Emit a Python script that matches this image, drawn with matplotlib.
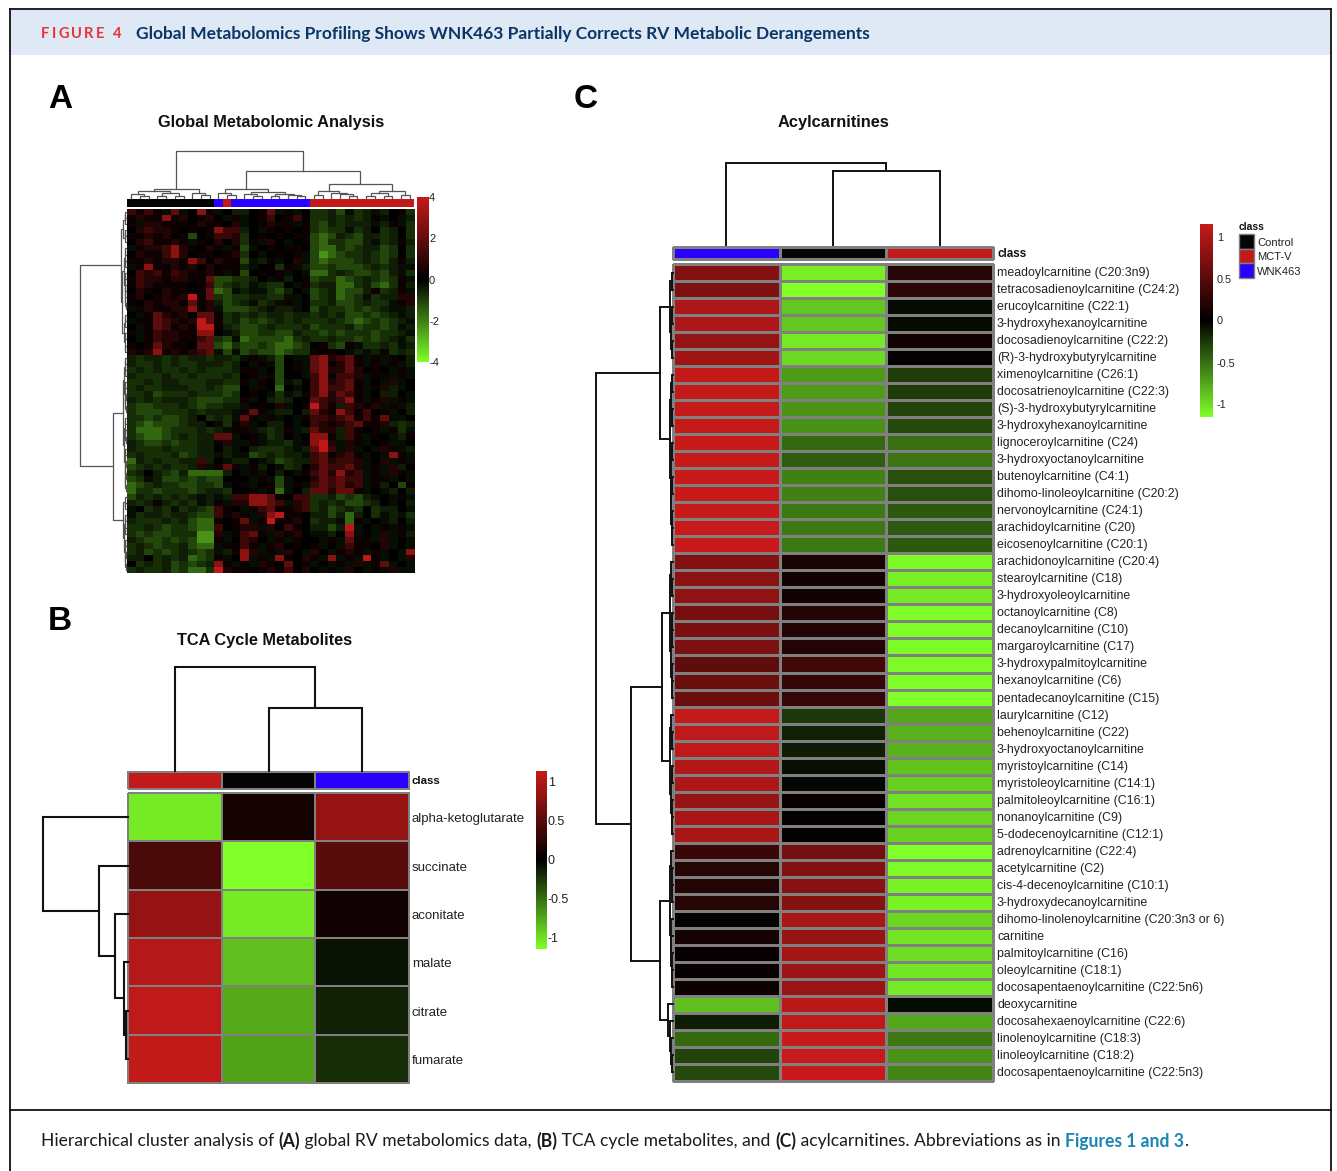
import matplotlib
matplotlib.use('Agg')
import matplotlib.pyplot as plt
from matplotlib import font_manager as fm
from matplotlib.colors import LinearSegmentedColormap, ListedColormap, Normalize
from matplotlib.patches import Rectangle
import numpy as np

W, H = 1337, 1171
SANS = 'Liberation Sans'


def bold_family():
    for fam in ['Lato', 'Open Sans', 'Roboto', 'Inter', 'Noto Sans']:
        for f in fm.fontManager.ttflist:
            if f.name == fam and f.weight in (700, 'bold'):
                return fam
    return SANS


HEAD = bold_family()

# ---------- data ----------
class_names = ['Control', 'MCT-V', 'WNK463']
class_colors = ['#050505', '#c21a1a', '#2a00ff']

a_classes = [0]*10 + [2, 1] + [2]*9 + [1]*12
# Panel A: rows; letters are green levels, digits red levels
a_levels = {'a': -.2, 'b': -.45, 'c': -.75, 'd': -1.1, 'e': -1.6, 'f': -2.3,
            '0': 0, '1': .3, '2': .7, '3': 1.2, '4': 1.9, '5': 2.8, '6': 3.8}
a_rows = [
 '3131a4a051 a0b b014a1a0 ccbdacbab01c',
 '1211512012 0a1 a0130130 ccbcbcb1a0ab',
 '1a22111021 102 a01211a1 cdbcbbbab1ac',
 '0232210101 533 b0a10101 cdccacb0cb0c',
 '1121201d01 332 c0101011 dedbcdbbcb0c',
 '0231121a10 202 c1a20a01 deccddbacb1b',
 'a122352102 1a1 da010110 deecdcbbdc0c',
 '0211352011 012 c0a0101a dfedccbcdc0c',
 '1121221530 211 dab1a02a dedddcbcdb1b',
 'a151121202 011 ba00c1ab ddcdddcbcbaa',
 '0323132112 1a1 d0101a0a eecbcddcdbac',
 '1322122114 ddc cb0a1b01 dccedcbcdc1a',
 '1321111013 dcb cabcc0a1 cbbeecbdec1b',
 '0210211014 eda baacdb0a dcbeddb1cb1a',
 '1201212614 cdc cbbccaa0 dcbedcacbb22',
 '1021221412 bdc bacba1a0 ccbddcbcca12',
 'a121122512 add dcbabba0 dbccdcdcbaab',
 '0a14212044 1cb cbcbbcbb cbcbddcdcbab',
 'a114321264 1cb dcdcbcbc ccbcdedcdcba',
 '0a14312166 1bc ddcbcccb dcccbdccdcab',
 '1a13221155 0ab ddccddbc cdcdcccdccba',
 '0a13221134 cda eddddecb ccbccdcdcbac',
 '1014211044 dec ddcdeedc 01cd1accbcab',
 '2125121234 ada dcddedcc 1010abab1cbc',
 'bcbbcbcbbc bbc a1abd0aa 452341a1a10b',
 'bccbcbccbb bcb 0a1ad01a 451241a1a1ab',
 'cbcbccbcbc ccb 11a0d01a 452242010a1a',
 'bcccbccbcc cbc 01a1d00a 351332a11a1a',
 'ccbcbbcccb bcc 1a10dab0 352341a0a2a0',
 'cbccbbbccb cdd 0a10e0a0 353341a12ba0',
 'ccbdcccbcc cdc 010acab1 352431a0bb0a',
 'bcbcbbbcdd dcc 1a0bcb00 432351a12a1a',
 'cddcccbcdc cbb a0102a01 631b3212a1ab',
 'cdddcccbcb bba 141abb0b 421531301a0b',
 'ccdcddcb0c bca 41a1a0a1 332341314aa0',
 'cdedddcbb0 ac1 2a0bb0a0 321234112bcb',
 'ceeedcccbc ba1 1abcb1ab 422b3101a1ca',
 'cdeedcbcbb 44a 01acb0a0 551b31a10ab1',
 'bcddcdccbb 12a a1abbca1 562a21a01aa0',
 'bcccbcccbb 0ba 0bcccbab 463a2a0a21ab',
 'cbcccbdcbb aba adcbcbba 341231a0a51a',
 'ebcbccbb3b 0ab b0abdcbb 342332a02a1a',
 'dcbcbccb2a 141 a1b0acb0 243342a1a2b0',
 'cb0bcdbeee eb0 a1a0b0a1 342523a1a21a',
 'dcabddcdcd d00 0a1ada00 243433a11a0a',
 'edcbccddcc da0 1a01da1a 343423a1b0d1',
 'eccdcccdcb bc0 01a0ea0b 442441a0ab0b',
 'dbcbcbcbab ab3 35541033 ccbdcdba0a1a',
 'bcb1bcbcab 1a2 25543a23 cbcbddcb0a0b',
 'a0cbcacbcd 310 a1341123 cbdcbc0cbb0a',
 'acbbcbbcdd 312 1a256110 bbdbeb0cabac',
 'bcccbcbdee 101 4a161120 cbbae1a0ab0b',
 'ccbcdccdee 301 22a20310 bbdb6a0a1a1a',
 'cdcddcccff 2a1 341a2120 aab05a0a2a1b',
 'bcddcdcdff 1a0 320a1a10 0a1a411a2a0a',
 'cbcdccbdee a11 31a12010 1a0a31102a0a',
 'cbdcdcbcdc ab1 52a1a20a 20a121a1a0a5',
 'bb0cbcbedc 1a0 5a1a5102 1a5a1a61a0a2',
 '0cbcbdcdcb 51a 1a210401 a0a1a2a14a0a',
 'cbccbdceec 621 10121302 0a1a20a1a2aa',
]

# dendrograms are nested merges: (height, left, right), leaves are indices
a_col_tree = (47, (8.7, (7, (4, 0, (2.5, 1, 2)), (5, (2.5, 3, 4), (2.5, 5, 6))),
                   (5, 7, (3, 8, 9))),
              (27.5, (9, (5, 10, (3, 11, 12)),
                      (6, (4, 13, (2.5, 14, 15)), (4.5, (2.5, 16, 17), (3.5, 18, (2.5, 19, 20))))),
               (14, (7.5, (3.5, 21, 22), (5.5, 23, (4, 24, (2.5, 25, 26)))),
                (7, (5, (2.5, 27, 28), (2.5, 29, 30)), (3.5, 31, 32)))))
a_row_tree = (46,
  (5.3, (3, (1.5, (1, 0, 1), 2), (1.5, (1, 3, 4), 5)),
   (4, (2.5, (1.5, (1, 6, 7), (1, 8, 9)), (1.5, (1, 10, 11), (1, (.6, 12, 13), (.6, 14, (.4, 15, 16))))),
    (2.5, (1, (.6, 17, 18), 19), (1, (.6, 20, 21), (.6, 22, 23))))),
  (13.3, (3.5, (2, (1, (.6, 24, 25), (.6, 26, 27)), (1, (.6, 28, 29), (.6, (.4, 30, 31), (.4, 32, 33)))),
          (2, (1, (.6, 34, 35), (.6, 36, (.4, 37, 38))),
           (1, (.6, 39, 40), (.6, (.4, 41, 42), (.6, (.4, 43, 44), (.4, 45, 46)))))),
   (3.5, (1.5, 47, (.8, 48, 49)),
    (2, (1, (.6, 50, 51), (.6, 52, 53)), (1, (.6, 54, 55), (.6, (.4, 56, 57), (.4, 58, 59)))))))
a_ticks = [4, 2, 0, -2, -4]

b_classes = [1, 0, 2]
b_rows = ['alpha-ketoglutarate', 'succinate', 'aconitate', 'malate', 'citrate', 'fumarate']
b_mct = [-1.05, .42, .85, 1.03, 1.08, 1.10]
b_ctrl = [.12, -1.14, -1.05, -.85, -.75, -.72]
b_wnk = [.85, .50, .09, -.08, -.15, -.20]
b_col_tree = (104, 0, (63, 1, 2))
b_row_tree = (85.5, 0, (29, 1, (13, 2, (4, 3, (2, 4, 5)))))
b_ticks = [1, .5, 0, -.5, -1]

c_classes = [2, 0, 1]
c_rows = ['meadoylcarnitine (C20:3n9)', 'tetracosadienoylcarnitine (C24:2)', 'erucoylcarnitine (C22:1)',
          '3-hydroxyhexanoylcarnitine', 'docosadienoylcarnitine (C22:2)', '(R)-3-hydroxybutyrylcarnitine',
          'ximenoylcarnitine (C26:1)', 'docosatrienoylcarnitine (C22:3)', '(S)-3-hydroxybutyrylcarnitine',
          '3-hydroxyhexanoylcarnitine', 'lignoceroylcarnitine (C24)', '3-hydroxyoctanoylcarnitine',
          'butenoylcarnitine (C4:1)', 'dihomo-linoleoylcarnitine (C20:2)', 'nervonoylcarnitine (C24:1)',
          'arachidoylcarnitine (C20)', 'eicosenoylcarnitine (C20:1)', 'arachidonoylcarnitine (C20:4)',
          'stearoylcarnitine (C18)', '3-hydroxyoleoylcarnitine', 'octanoylcarnitine (C8)',
          'decanoylcarnitine (C10)', 'margaroylcarnitine (C17)', '3-hydroxypalmitoylcarnitine',
          'hexanoylcarnitine (C6)', 'pentadecanoylcarnitine (C15)', 'laurylcarnitine (C12)',
          'behenoylcarnitine (C22)', '3-hydroxyoctanoylcarnitine', 'myristoylcarnitine (C14)',
          'myristoleoylcarnitine (C14:1)', 'palmitoleoylcarnitine (C16:1)', 'nonanoylcarnitine (C9)',
          '5-dodecenoylcarnitine (C12:1)', 'adrenoylcarnitine (C22:4)', 'acetylcarnitine (C2)',
          'cis-4-decenoylcarnitine (C10:1)', '3-hydroxydecanoylcarnitine',
          'dihomo-linolenoylcarnitine (C20:3n3 or 6)', 'carnitine', 'palmitoylcarnitine (C16)',
          'oleoylcarnitine (C18:1)', 'docosapentaenoylcarnitine (C22:5n6)', 'deoxycarnitine',
          'docosahexaenoylcarnitine (C22:6)', 'linolenoylcarnitine (C18:3)', 'linoleoylcarnitine (C18:2)',
          'docosapentaenoylcarnitine (C22:5n3)']
c_wnk = [.75, .72, 1.0, 1.0, .85, .93, 1.12, 1.12, 1.13, 1.13, 1.15, 1.15, 1.15, 1.15, 1.15, 1.15, 1.15,
         .75, .80, .83, .68, .70, .72, .55, .62, .62, 1.13, 1.10, 1.10, 1.03, 1.0, .87, .98, .98,
         .33, .22, .20, .22, -.01, .12, .05, .05, .07, -.86, -.13, -.47, -.30, -.33]
c_ctrl = [-1.08, -1.15, -.90, -.90, -1.05, -.98, -.70, -.70, -.66, -.65, -.47, -.42, -.58, -.58, -.55, -.55, -.55,
          .15, .10, .10, .20, .20, .20, .37, .30, .30, -.25, -.15, -.13, -.07, -.03, .05, .02, .03,
          .67, .75, .78, .77, .98, .87, .94, .90, .88, 1.07, 1.10, 1.15, 1.15, 1.15]
c_mct = [.22, .25, -.05, -.05, .10, .03, -.27, -.27, -.30, -.33, -.50, -.53, -.36, -.36, -.40, -.40, -.40,
         -1.12, -1.08, -1.05, -1.14, -1.14, -1.13, -1.13, -1.14, -1.15, -.75, -.80, -.80, -.88, -.93, -1.02, -.96, -.94,
         -1.15, -1.13, -1.10, -1.10, -.97, -1.03, -1.0, -1.03, -1.05, -.05, -.75, -.55, -.65, -.60]
c_col_tree = (82.3, 0, (74, 1, 2))
c_row_tree = (77.5,
  (13, (3, (1, 0, 1), (1.5, (.7, 2, 3), (1, 4, 5))),
   (3, (1.5, (1, 6, 7), (1, 8, 9)),
    (2, (1, 10, 11), (1.5, (.8, 12, 13), (1, 14, (.7, 15, 16)))))),
  (42.5,
   (10.5, (3, (1.5, 17, (1, 18, 19)), (2, (1, 20, (.7, 21, 22)), (1, 23, (.7, 24, 25)))),
    (3, (1.5, 26, (1, 27, 28)), (2, (1, 29, 30), (1, 31, (.7, 32, 33))))),
   (13, (3, (2, 34, (1, 35, (.7, 36, 37))), (2, 38, (1.5, 39, (1, 40, (.7, 41, 42))))),
    (5, 43, (3, 44, (2, 45, (1, 46, 47)))))))
c_ticks = [1, .5, 0, -.5, -1]

# ---------- helpers ----------
fig = plt.figure(figsize=(W/100, H/100), dpi=100, facecolor='white')
cmap = LinearSegmentedColormap.from_list('gbr', ['#80ff28', '#000000', '#c81a1a'])
class_cmap = ListedColormap(class_colors)


def px_axes(x0, y0, x1, y1):
    ax = fig.add_axes([x0/W, 1-y1/H, (x1-x0)/W, (y1-y0)/H])
    ax.axis('off')
    return ax


def draw_tree(ax, node, horizontal, color, lw):
    def walk(n):
        if not isinstance(n, tuple):
            return n + .5, 0
        h, l, r = n
        pl, hl = walk(l)
        pr, hr = walk(r)
        xs, ys = [pl, pl, pr, pr], [hl, h, h, hr]
        if horizontal:
            ax.plot(xs, ys, color=color, lw=lw, solid_joinstyle='miter', clip_on=False)
        else:
            ax.plot(ys, xs, color=color, lw=lw, solid_joinstyle='miter', clip_on=False)
        return (pl+pr)/2, h
    walk(node)


def colorbar(x0, y0, x1, y1, vmax, ticks, ty, lx, fs=8.5):
    ax = px_axes(x0, y0, x1, y1)
    grad = np.linspace(vmax, -vmax, 256)[:, None]
    ax.imshow(grad, cmap=cmap, vmin=-vmax, vmax=vmax, aspect='auto', extent=[0, 1, -vmax, vmax])
    for t, y in zip(ticks, ty):
        bg.text(lx, y + 1, f'{t:g}', family=SANS, fontsize=fs, va='center', ha='left', color='#222222')


# full-figure layer in pixel coordinates
bg = fig.add_axes([0, 0, 1, 1])
bg.set_xlim(0, W)
bg.set_ylim(H, 0)
bg.axis('off')
bg.add_patch(Rectangle((9, 8), 1322, 47, fc='#dee9f5', ec='none'))
bg.plot([9.5, 9.5], [H, 8.5], color='#111111', lw=1.3)
bg.plot([9.5, 1331], [8.5, 8.5], color='#111111', lw=1.3)
bg.plot([1331, 1331], [8.5, H], color='#111111', lw=1.3)
bg.plot([9.5, 1331], [1110, 1110], color='#111111', lw=1.3)
r = fig.canvas.get_renderer()


def width_of(s, size, **kw):
    t = bg.text(0, 0, s.replace(' ', '\u00a0'), family=HEAD, fontsize=size, **kw)
    w = t.get_window_extent(r).width
    t.remove()
    return w


# header
x = 41
letter_w = [(ch, width_of(ch, 10.6, fontweight='bold') if ch != ' ' else 4.5) for ch in 'FIGURE 4']
gap = (122 - 41 - sum(w for _, w in letter_w)) / 7
for ch, w in letter_w:
    bg.text(x, 33.5, ch, family=HEAD, fontweight='bold', fontsize=10.6, color='#e8333c', va='center', ha='left')
    x += w + gap
title = 'Global Metabolomics Profiling Shows WNK463 Partially Corrects RV Metabolic Derangements'
title_fs = 10 * 735 / width_of(title, 10, fontweight='bold')
bg.text(136, 33.5, title, family=HEAD, fontweight='bold', fontsize=title_fs, color='#0b3566', va='center', ha='left')

# caption
plain = dict(color='#1a1a1a')
bold = dict(color='#1a1a1a', fontweight='bold')
parts = [('Hierarchical cluster analysis of ', plain), ('(A)', bold), (' global RV metabolomics data, ', plain),
         ('(B)', bold), (' TCA cycle metabolites, and ', plain), ('(C)', bold),
         (' acylcarnitines. Abbreviations as in ', plain),
         ('Figures 1 and 3', dict(color='#1b86b3', fontweight='bold')), ('.', plain)]
cap_fs = 10 * (1190 - 41) / sum(width_of(s, 10, **{k: v for k, v in kw.items() if k != 'color'}) for s, kw in parts)
x = 41
for s, kw in parts:
    t = bg.text(x, 1141, s.replace(' ', '\u00a0'), family=HEAD, fontsize=cap_fs, va='center', ha='left', **kw)
    x += t.get_window_extent(r).width

# panel letters and titles
for s, px, py in [('A', 48, 99.5), ('B', 48, 621), ('C', 574, 99.5)]:
    bg.text(px, py, s, family=SANS, fontweight='bold', fontsize=24, va='center', ha='left', color='black')
for s, px, py in [('Global Metabolomic Analysis', 271, 123), ('TCA Cycle Metabolites', 265, 641),
                  ('Acylcarnitines', 833, 123)]:
    bg.text(px, py, s, family=SANS, fontweight='bold', fontsize=11.8, va='center', ha='center', color='#111111')

# ---------- panel A ----------
a_mat = np.array([[a_levels[c] for c in row.replace(' ', '')] for row in a_rows])
ax = px_axes(127, 209, 414, 573)
ax.imshow(a_mat, cmap=cmap, norm=Normalize(-4, 4), aspect='auto', interpolation='nearest')
ax = px_axes(127, 199, 414, 207)
ax.pcolormesh(np.array([a_classes]), cmap=class_cmap, vmin=0, vmax=2)
ax = px_axes(127, 140, 414, 198)
ax.set_xlim(0, 33)
ax.set_ylim(0, 58)
draw_tree(ax, a_col_tree, True, '#555555', 0.9)
ax = px_axes(70, 209, 126, 573)
ax.set_xlim(56, 0)
ax.set_ylim(len(a_rows), 0)
draw_tree(ax, a_row_tree, False, '#555555', 0.9)
colorbar(417, 197, 428, 362, 4, a_ticks, [197, 238, 280, 321, 362], 429, 8)

# ---------- panel B ----------
b_mat = np.column_stack([b_mct, b_ctrl, b_wnk])
ax = px_axes(128, 793, 409, 1083)
ax.pcolormesh(b_mat, cmap=cmap, norm=Normalize(-1.14, 1.14), edgecolors='#808080', linewidth=1.2, clip_on=False)
ax.set_ylim(6, 0)
ax.set_xlim(0, 3)
for i, s in enumerate(b_rows):
    bg.text(412, 793 + 48.33*(i+.5) + 2.3, s, family=SANS, fontsize=9.55, va='center', ha='left', color='#222222')
ax = px_axes(128, 772, 409, 789)
ax.pcolormesh(np.array([b_classes]), cmap=class_cmap, vmin=0, vmax=2, edgecolors='#808080', linewidth=1.2, clip_on=False)
ax.set_xlim(0, 3)
ax = px_axes(128, 660, 409, 771)
ax.set_xlim(0, 3)
ax.set_ylim(0, 111)
draw_tree(ax, b_col_tree, True, '#111111', 1.5)
ax = px_axes(38, 793, 128, 1083)
ax.set_xlim(90, 0)
ax.set_ylim(6, 0)
draw_tree(ax, b_row_tree, False, '#111111', 1.5)
bg.text(412, 781, 'class', family=SANS, fontweight='bold', fontsize=8.2, va='center', ha='left', color='#111111')
colorbar(536, 771, 547, 949, 1.14, b_ticks, [782, 821, 860, 899, 938], 548, 9)

# ---------- panel C ----------
c_mat = np.column_stack([c_wnk, c_ctrl, c_mct])
ax = px_axes(673, 264, 993, 1081)
ax.pcolormesh(c_mat, cmap=cmap, norm=Normalize(-1.155, 1.155), edgecolors='#808080', linewidth=0.9, clip_on=False)
ax.set_ylim(48, 0)
ax.set_xlim(0, 3)
for i, s in enumerate(c_rows):
    bg.text(997, 264.5 + 17.02*(i+.5), s, family=SANS, fontsize=8.88, va='center', ha='left', color='#222222')
ax = px_axes(673, 247, 993, 259)
ax.pcolormesh(np.array([c_classes]), cmap=class_cmap, vmin=0, vmax=2, edgecolors='#808080', linewidth=0.9, clip_on=False)
ax.set_xlim(0, 3)
ax = px_axes(673, 155, 993, 245)
ax.set_xlim(0, 3)
ax.set_ylim(0, 90)
draw_tree(ax, c_col_tree, True, '#111111', 1.4)
ax = px_axes(590, 264, 673, 1081)
ax.set_xlim(83, 0)
ax.set_ylim(48, 0)
draw_tree(ax, c_row_tree, False, '#111111', 1.4)
bg.text(997, 254, 'class', family=SANS, fontweight='bold', fontsize=8.4, va='center', ha='left', color='#111111')
colorbar(1200, 224, 1213, 417, 1.155, c_ticks, [237, 279, 320, 363, 404], 1217, 7.8)

# legend of panel C
bg.text(1239, 226.5, 'class', family=SANS, fontweight='bold', fontsize=7.4, va='center', ha='left', color='#111111')
for i, (n, c) in enumerate(zip(class_names, class_colors)):
    bg.add_patch(Rectangle((1239, 234+14.7*i), 14.5, 14.7, fc=c, ec='#808080', lw=1))
    bg.text(1257, 242.5+14.7*i, n, family=SANS, fontsize=8, va='center', ha='left', color='#222222')

fig.savefig('out.png', dpi=100, facecolor='white')
